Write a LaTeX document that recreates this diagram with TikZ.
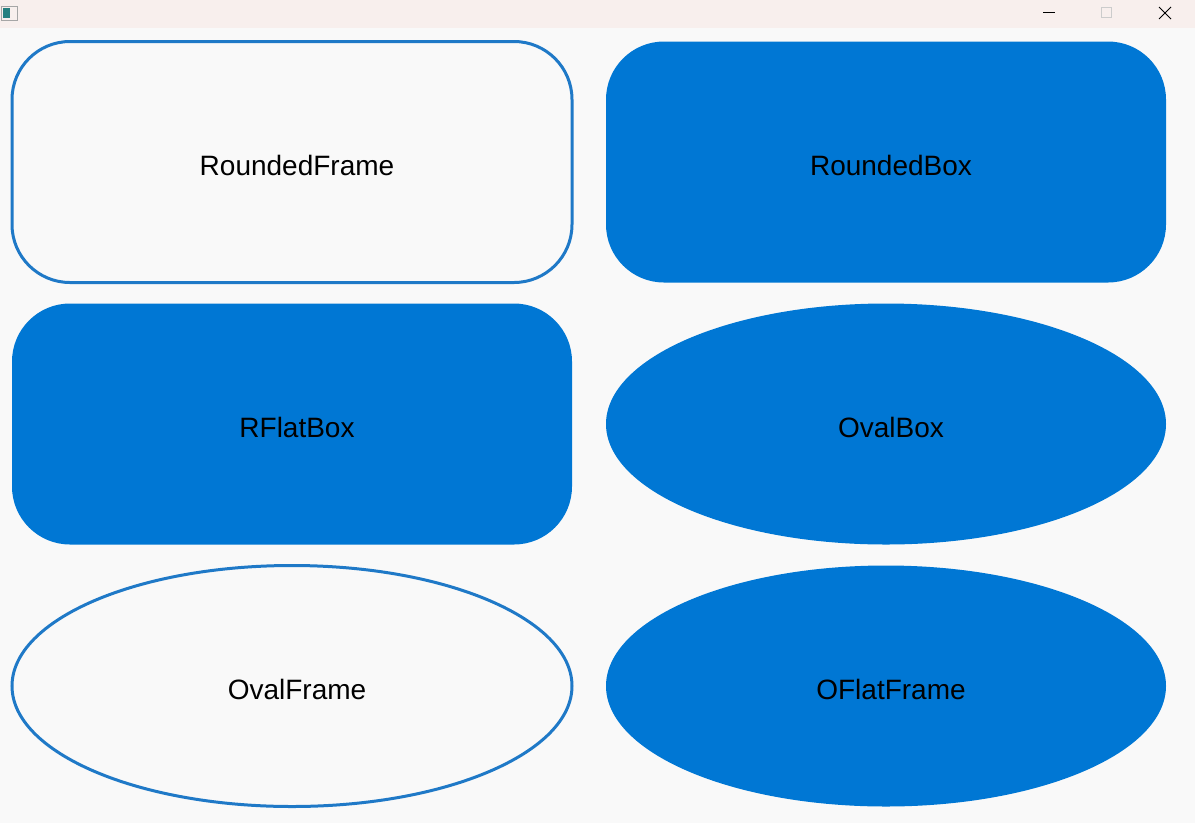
\documentclass[tikz,border=0pt]{standalone}
\usepackage{fontspec}
\setmainfont{Liberation Sans}
\usetikzlibrary{shapes.geometric}

\definecolor{winblue}{HTML}{0077D4}
\definecolor{frameblue}{HTML}{1F79C7}
\definecolor{canvas}{HTML}{F9F9F9}
\definecolor{titlebar}{HTML}{F8EFED}

\tikzset{
  lbl/.style={font=\fontsize{28}{32}\selectfont, text=black, text height=26pt, text depth=0pt,
    execute at begin node=\hspace*{10pt}},
  rbox/.style={lbl, rectangle, rounded corners=58pt, minimum width=560pt, minimum height=241pt},
  obox/.style={lbl, ellipse, minimum width=560pt, minimum height=241pt, inner sep=0pt},
  filled/.style={fill=winblue},
  framed/.style={draw=frameblue, line width=3pt}
}

\begin{document}
\begin{tikzpicture}[x=1pt, y=-1pt]
	\useasboundingbox (0,0) rectangle (1195,823);
	\fill[canvas] (0,0) rectangle (1195,823);
	% window title bar
	\fill[titlebar] (0,0) rectangle (1195,28);
	\draw[gray!70, line width=0.8pt] (1,6) rectangle (17,20);
	\fill[teal!70!gray] (3,8) rectangle (10,18);
	\draw[black, line width=1pt] (1043,12) -- (1055,12);
	\draw[gray!40, line width=0.8pt] (1101,7) rectangle (1111,17);
	\draw[black, line width=1pt] (1159,7) -- (1171,19) (1171,7) -- (1159,19);

	\path (292,162) node[rbox, framed] (rframe){RoundedFrame}
		(886,162) node[rbox, filled] (rbox){RoundedBox}
		(292,424) node[rbox, filled] (rflat){RFlatBox}
		(886,424) node[obox, filled] (obox){OvalBox}
		(292,686) node[obox, framed] (oframe){OvalFrame}
		(886,686) node[obox, filled] (oflat){OFlatFrame};
\end{tikzpicture}
\end{document}
